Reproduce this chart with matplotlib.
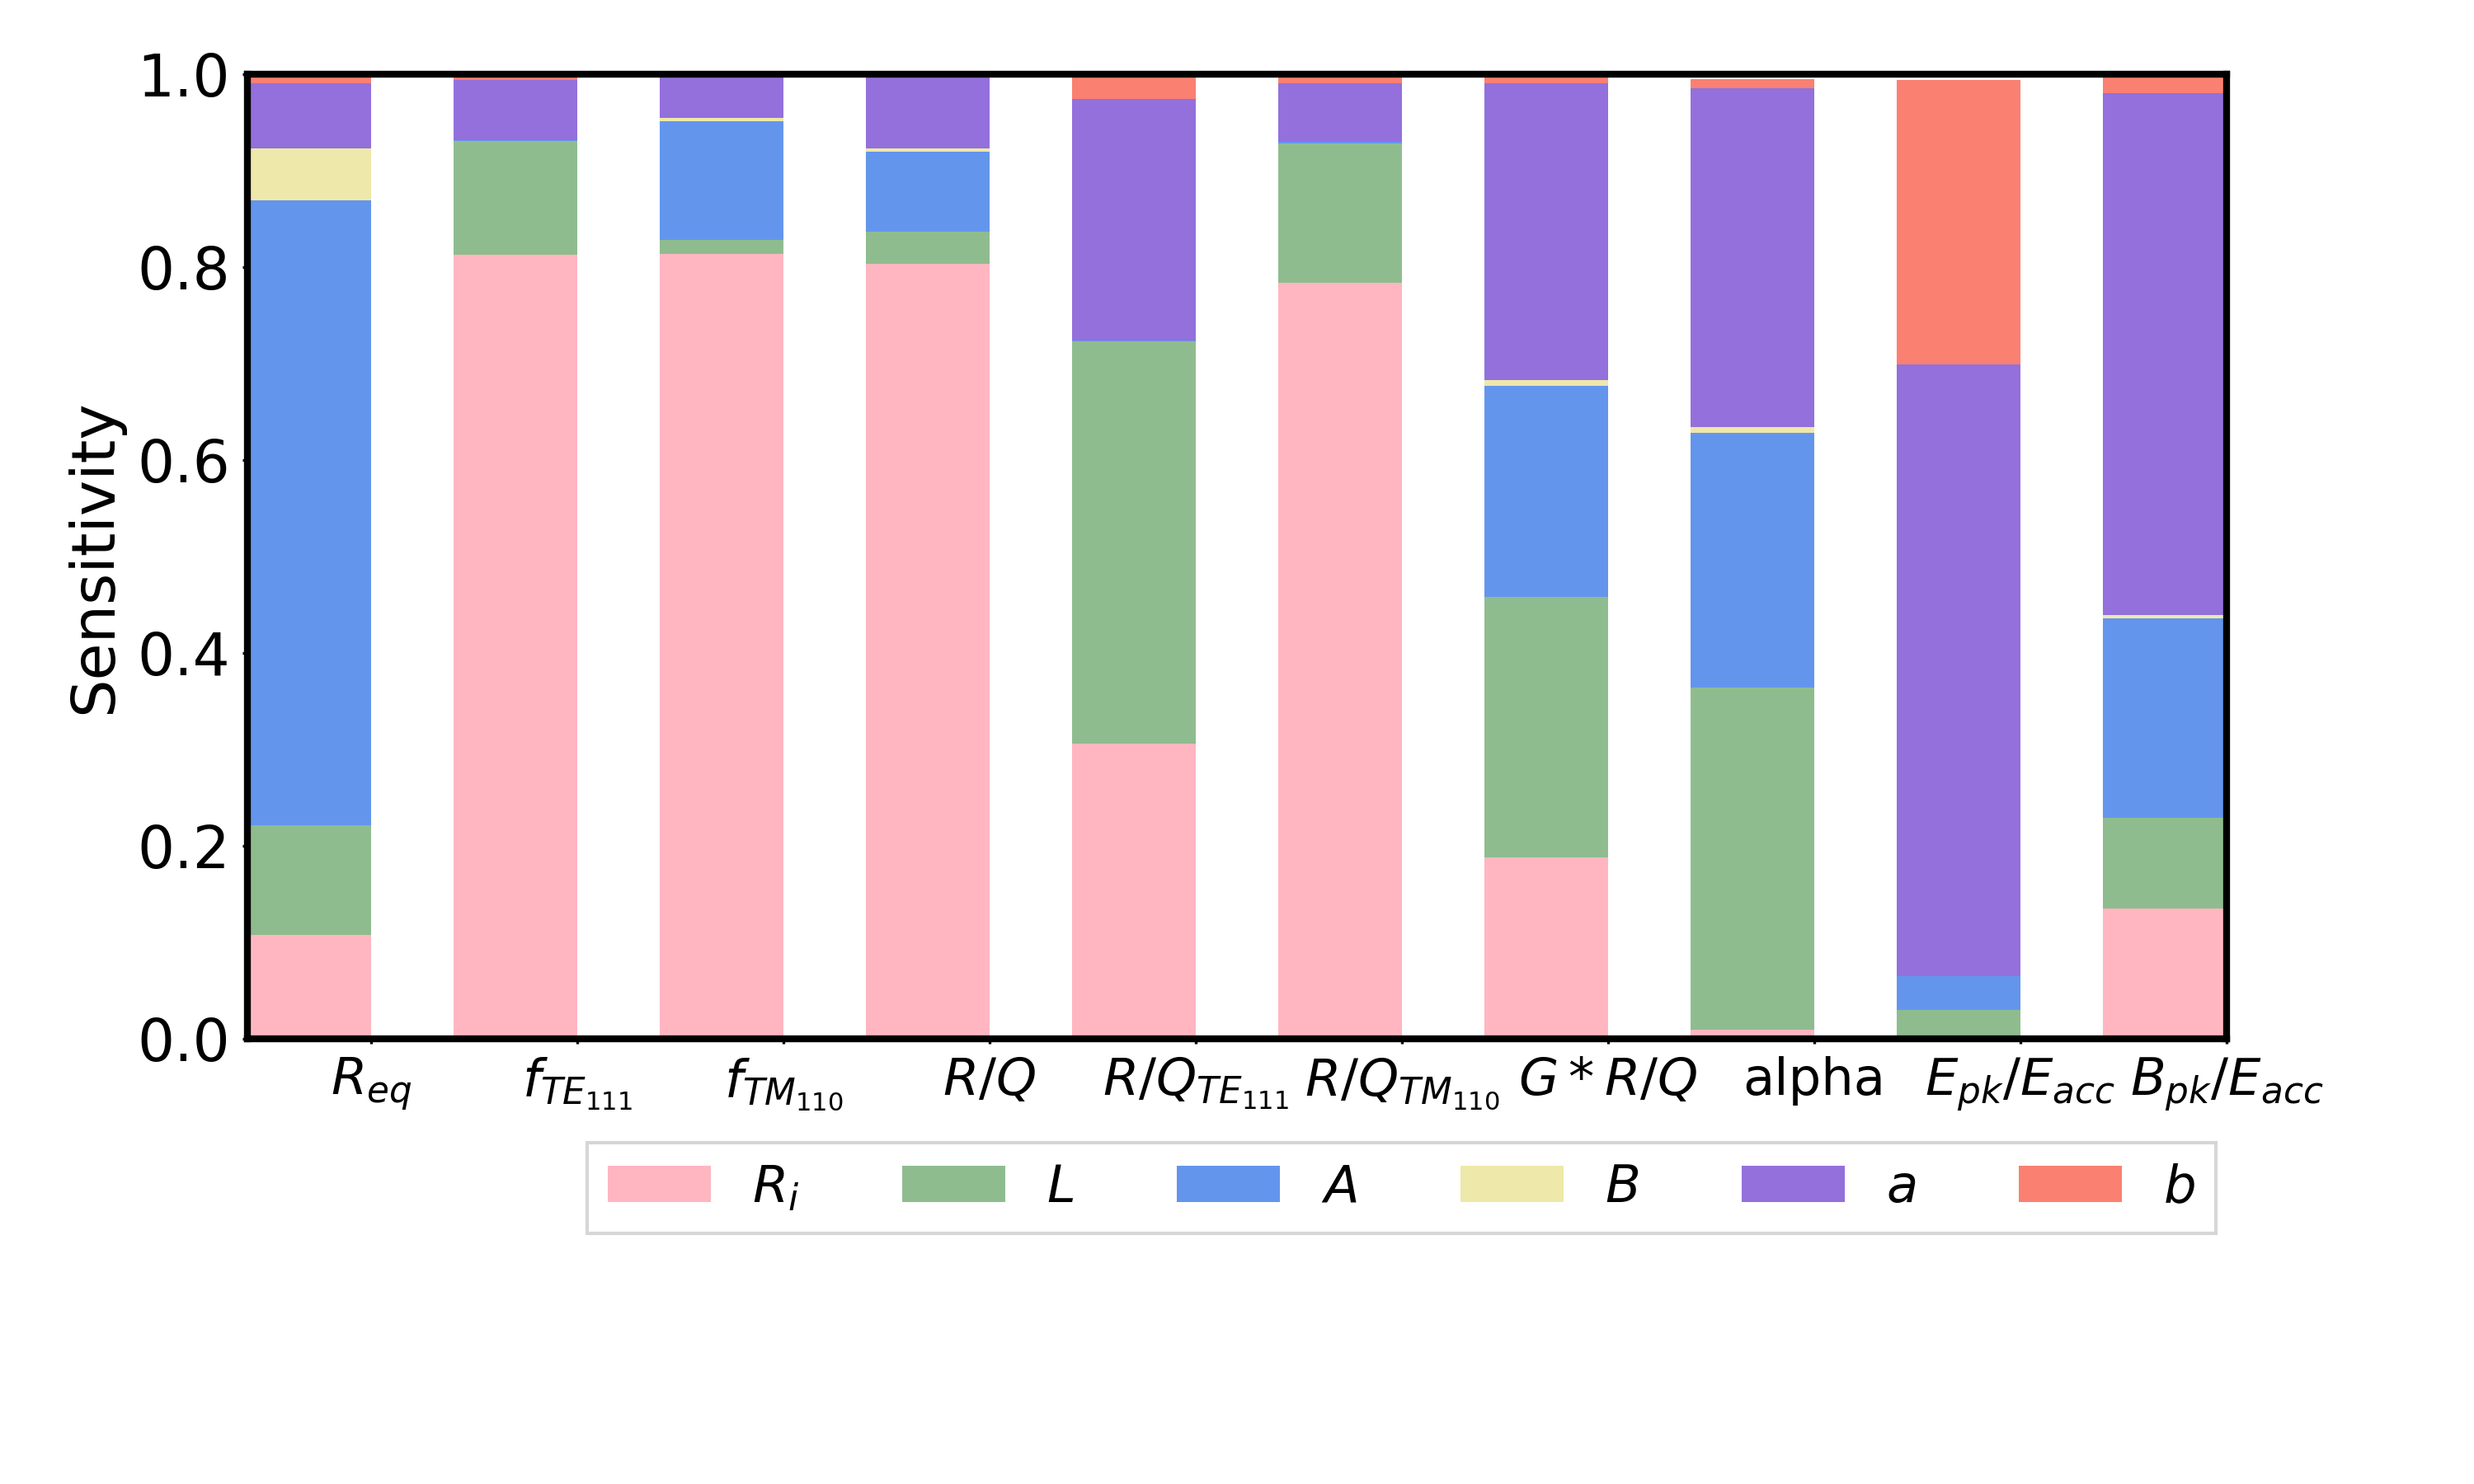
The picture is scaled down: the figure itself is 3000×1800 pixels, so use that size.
import matplotlib.pyplot as plt
import numpy as np

# Output quantities (x axis) and geometry parameters (stacked contributions)
quantities = [r'$R_{eq}$', r'$f_{TE_{111}}$', r'$f_{TM_{110}}$', r'$R/Q$',
              r'$R/Q_{TE_{111}}$', r'$R/Q_{TM_{110}}$', r'$G*R/Q$', 'alpha',
              r'$E_{pk}/E_{acc}$', r'$B_{pk}/E_{acc}$']
params = [r'$R_i$', r'$L$', r'$A$', r'$B$', r'$a$', r'$b$']
colors = ['lightpink', 'darkseagreen', 'cornflowerblue', 'palegoldenrod',
          'mediumpurple', 'salmon']

# sensitivity of each quantity to each parameter
s_Ri = [0.108, 0.813, 0.814, 0.803, 0.306, 0.784, 0.188, 0.009, 0.000, 0.135]
s_L = [0.113, 0.118, 0.014, 0.0335, 0.417, 0.144, 0.2705, 0.355, 0.030, 0.094]
s_A = [0.648, 0.001, 0.123, 0.0835, 0.001, 0.002, 0.218, 0.264, 0.035, 0.207]
s_B = [0.054, 0.000, 0.004, 0.003, 0.000, 0.000, 0.0065, 0.0066, 0.000, 0.0034]
s_a = [0.068, 0.062, 0.045, 0.0775, 0.250, 0.061, 0.3075, 0.3505, 0.634, 0.5412]
s_b = [0.009, 0.007, 0.000, 0.000, 0.026, 0.007, 0.009, 0.010, 0.295, 0.019]

data = np.array([s_Ri, s_L, s_A, s_B, s_a, s_b])

x = np.arange(len(quantities))
width = 0.6

fig, ax = plt.subplots(figsize=(10, 6), dpi=300)
fig.subplots_adjust(left=0.1, right=0.9, top=0.95, bottom=0.3)

bottom = np.zeros(len(quantities))
for i in range(len(params)):
    ax.bar(x, data[i], -width, bottom=bottom, align='edge',
           color=colors[i], label=params[i], linewidth=0)
    bottom += data[i]

ax.set_xlim(-width, len(quantities) - 1)
ax.set_ylim(0, 1)
ax.set_xticks(x)
ax.set_xticklabels(quantities, fontsize=15)
ax.tick_params(axis='y', labelsize=17)
ax.tick_params(length=1.5)
ax.set_ylabel('Sensitivity', fontsize=17.6)
for sp in ax.spines.values():
    sp.set_linewidth(2)

ax.legend(loc='upper center', bbox_to_anchor=(0.583, -0.081), ncol=6,
          fontsize=15, fancybox=False, edgecolor='0.8')

fig.savefig('out.png')
